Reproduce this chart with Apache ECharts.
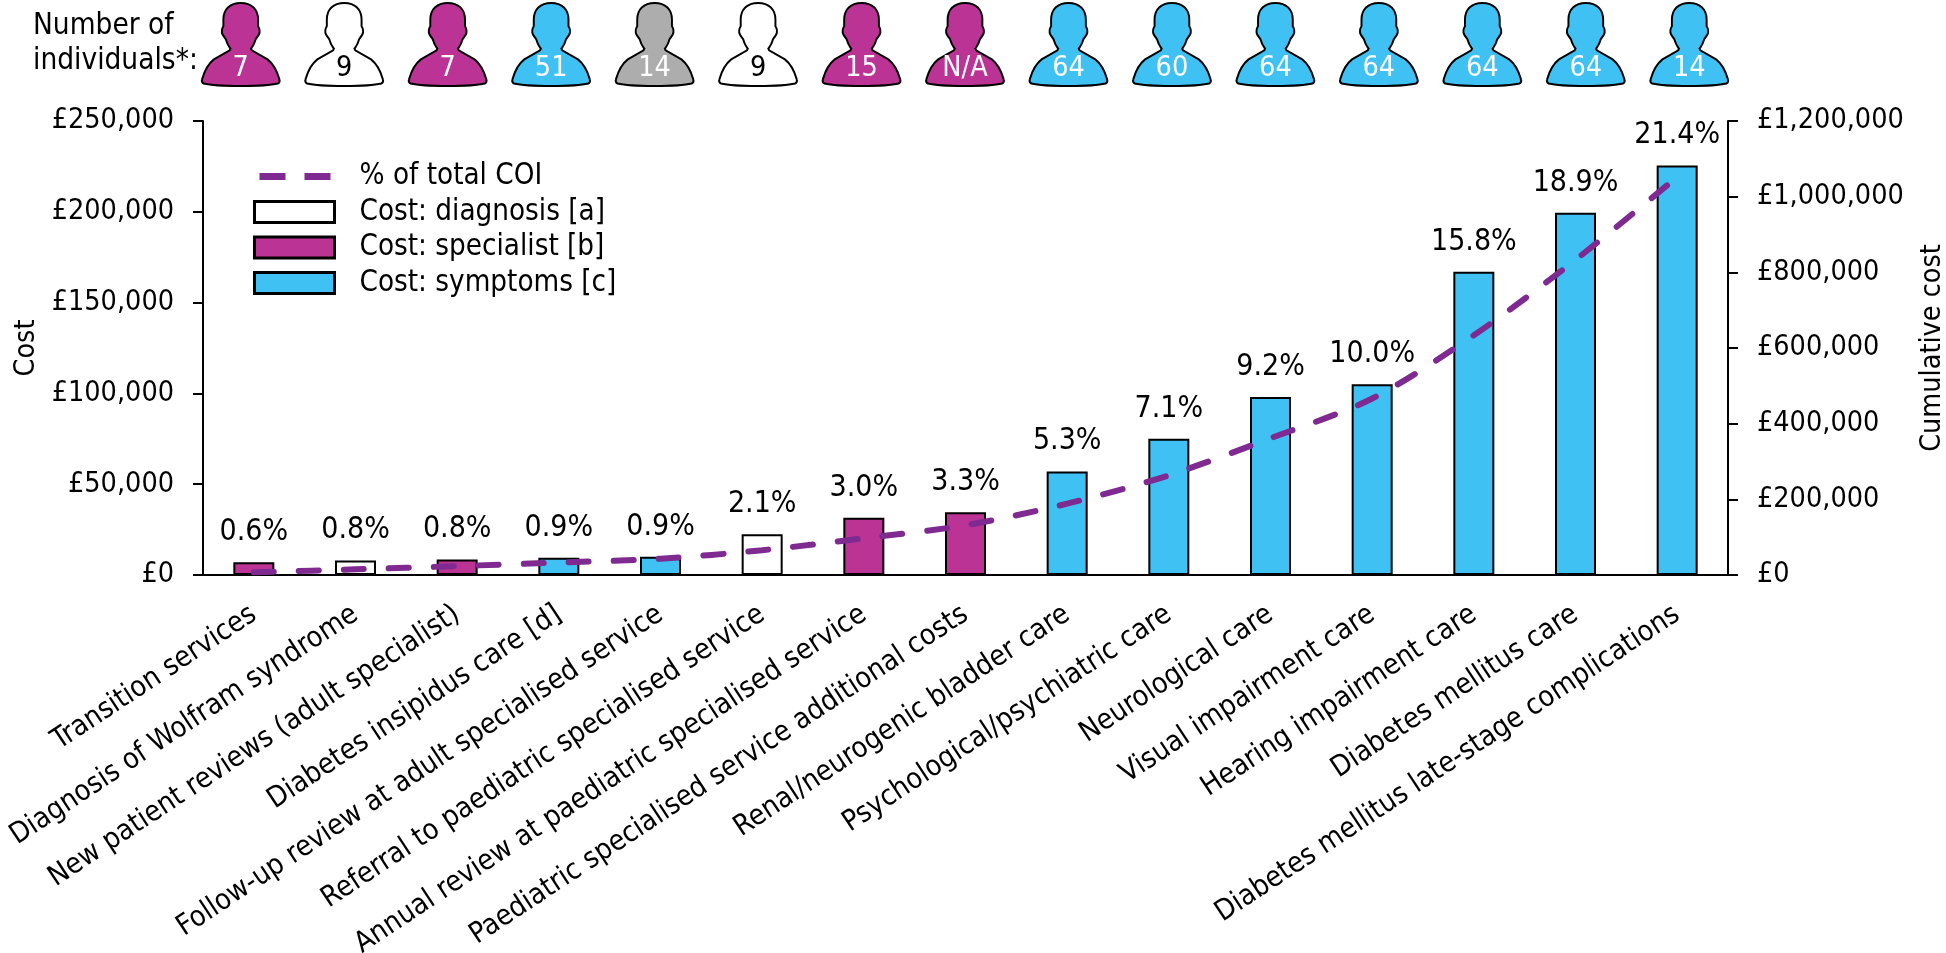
<!DOCTYPE html>
<html><head><meta charset="utf-8">
<style>html,body{margin:0;padding:0;background:#fff}#c{width:1946px;height:953px}</style>
<script src="https://cdn.jsdelivr.net/npm/echarts@6/dist/echarts.min.js"></script></head>
<body><div id="c"></div>
<script>
const categories=["Transition services","Diagnosis of Wolfram syndrome","New patient reviews (adult specialist)","Diabetes insipidus care [d]","Follow-up review at adult specialised service","Referral to paediatric specialised service","Annual review at paediatric specialised service","Paediatric specialised service additional costs","Renal/neurogenic bladder care","Psychological/psychiatric care","Neurological care","Visual impairment care","Hearing impairment care","Diabetes mellitus care","Diabetes mellitus late-stage complications"];
const diagnosisCost=[null,8000,null,null,null,22500,null,null,null,null,null,null,null,null,null];
const specialistCost=[7000,null,8500,null,null,null,31500,34500,null,null,null,null,null,null,null];
const symptomsCost=[null,null,null,9500,10000,null,null,null,57000,75000,98000,105000,167000,199500,225500];
const cumulativeCost=[7000,15000,23500,33000,43000,65500,97000,131500,188500,263500,361500,466500,633500,833000,1052000];
const pctLabels=["0.6%","0.8%","0.8%","0.9%","0.9%","2.1%","3.0%","3.3%","5.3%","7.1%","9.2%","10.0%","15.8%","18.9%","21.4%"];
const individuals=["7","9","7","51","14","9","15","N/A","64","60","64","64","64","64","14"];
const iconGroup=["s","d","s","c","g","d","s","s","c","c","c","c","c","c","c"];
const colors={d:"#ffffff",s:"#bb3394",c:"#40c1f4",g:"#adadad",line:"#7f2a90"};
const FONT="'DejaVu Sans Condensed','DejaVu Sans',sans-serif";
const FS=28.5;
const person="path://M50 0 C36 0 28 8 28 20 L28 28 C26 31 25 34 27 38 C29 42 31 42 32 46 C33 50 35 52 37 55 L36 57 L16 68 C8 74 4 82 1 92 C0 95 1 96 3 97 C20 101 80 101 97 97 C99 96 100 95 99 92 C96 82 92 74 84 68 L64 57 L63 55 C65 52 67 50 68 46 C69 42 71 42 73 38 C75 34 74 31 72 28 L72 20 C72 8 64 0 50 0 Z";
const dashes="path://M0 0L0 0Z M80 21L80 21Z M5 7H31V14H5Z M50 7H76V14H50Z";
const money=v=>"£"+String(v).replace(/\B(?=(\d{3})+$)/g,",");
function barSeries(name,data,color){return {name,type:"bar",data,xAxisIndex:0,yAxisIndex:0,barWidth:41,barGap:"-100%",
  itemStyle:{color,borderColor:"#000",borderWidth:2},
  label:{show:true,position:"top",distance:15,fontFamily:FONT,fontSize:30,color:"#000",formatter:p=>pctLabels[p.dataIndex]}};}
const axisLine={show:true,lineStyle:{color:"#000",width:2}};
const swatch={borderColor:"#000",borderWidth:3};
const chart=echarts.init(document.getElementById("c"),null,{renderer:"canvas"});
chart.setOption({
  animation:false,backgroundColor:"#fff",
  textStyle:{fontFamily:FONT},
  grid:[{left:203,top:121,width:1525,height:454,outerBoundsMode:"none",containLabel:false},
        {left:189,top:3,width:1552,height:83,outerBoundsMode:"none",containLabel:false}],
  title:{text:"Number of\nindividuals*:",left:33,top:9,padding:0,textStyle:{fontFamily:FONT,fontSize:29.5,fontWeight:"normal",color:"#000",lineHeight:35}},
  legend:{left:253,top:162,padding:0,orient:"vertical",itemWidth:80,itemHeight:21,itemGap:6.5,
    data:[
      {name:"% of total COI",icon:dashes,itemStyle:{color:colors.line,borderWidth:0}},
      {name:"Cost: diagnosis [a]",icon:"rect",itemStyle:swatch},
      {name:"Cost: specialist [b]",icon:"rect",itemStyle:swatch},
      {name:"Cost: symptoms [c]",icon:"rect",itemStyle:swatch}],
    textStyle:{fontFamily:FONT,fontSize:29.3,color:"#000",padding:[0,0,0,20]}},
  xAxis:[
    {type:"category",gridIndex:0,data:categories,axisLine:{show:true,onZero:false,lineStyle:{color:"#000",width:2}},axisTick:{show:false},
     axisLabel:{rotate:33.5,interval:0,margin:37,fontFamily:FONT,fontSize:28.7,color:"#000"}},
    {type:"category",gridIndex:1,data:categories,show:false}
  ],
  yAxis:[
    {type:"value",gridIndex:0,min:0,max:250000,interval:50000,name:"Cost",nameLocation:"middle",nameGap:160,nameTextStyle:{fontFamily:FONT,fontSize:FS,color:"#000"},
     axisLine,axisTick:{show:true,length:10,lineStyle:{color:"#000",width:2}},splitLine:{show:false},
     axisLabel:{margin:29,formatter:money,fontFamily:FONT,fontSize:FS,color:"#000"}},
    {type:"value",gridIndex:0,position:"right",min:0,max:1200000,interval:200000,name:"Cumulative cost",nameLocation:"middle",nameGap:190,nameTextStyle:{fontFamily:FONT,fontSize:FS,color:"#000"},
     axisLine,axisTick:{show:true,length:10,lineStyle:{color:"#000",width:2}},splitLine:{show:false},
     axisLabel:{margin:29,formatter:money,fontFamily:FONT,fontSize:FS,color:"#000"}},
    {type:"value",gridIndex:1,min:0,max:1,show:false}
  ],
  series:[
    barSeries("Cost: diagnosis [a]",diagnosisCost,colors.d),
    barSeries("Cost: specialist [b]",specialistCost,colors.s),
    barSeries("Cost: symptoms [c]",symptomsCost,colors.c),
    {name:"% of total COI",type:"line",xAxisIndex:0,yAxisIndex:1,data:cumulativeCost,smooth:0.3,showSymbol:false,symbol:"none",z:5,
     lineStyle:{color:colors.line,width:6,type:[20,25],cap:"round"},itemStyle:{color:colors.line}},
    {name:"Individuals",type:"scatter",xAxisIndex:1,yAxisIndex:2,symbol:person,symbolSize:[78,83],
     data:individuals.map((n,i)=>({value:[i,0.5],
       itemStyle:{color:colors[iconGroup[i]],borderColor:"#000",borderWidth:2,opacity:1},
       label:{show:true,formatter:n,position:"inside",offset:[0,24],fontFamily:FONT,fontSize:FS,color:iconGroup[i]==="d"?"#000":"#fff"}}))}
  ]
});
</script></body></html>
